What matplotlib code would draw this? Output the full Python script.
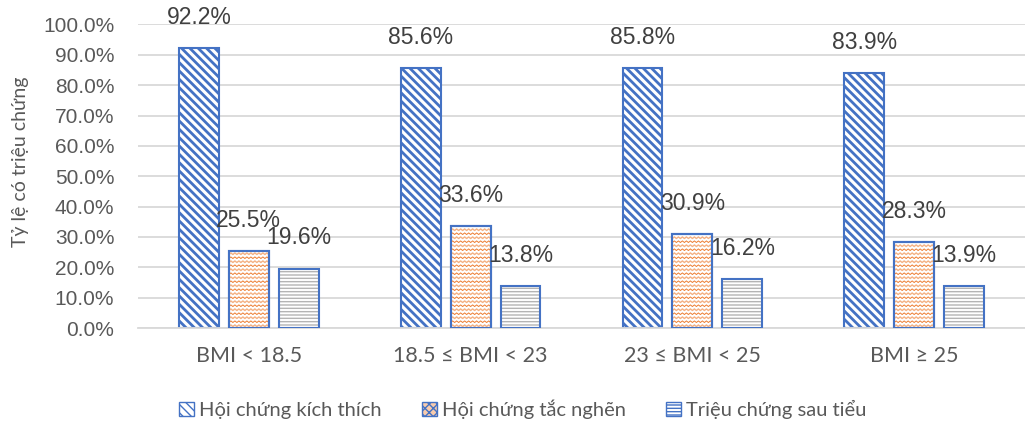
import matplotlib.pyplot as plt
import matplotlib.patches as mpatches
import numpy as np

categories = ["BMI < 18.5", "18.5 ≤ BMI < 23", "23 ≤ BMI < 25", "BMI ≥ 25"]
series_names = ["Hội chứng kích thích", "Hội chứng tắc nghẽn", "Triệu chứng sau tiểu"]
kich_thich = [92.2, 85.6, 85.8, 83.9]
tac_nghen = [25.5, 33.6, 30.9, 28.3]
sau_tieu = [19.6, 13.8, 16.2, 13.9]
y_ticks = [0, 10, 20, 30, 40, 50, 60, 70, 80, 90, 100]

BLUE = "#4472C4"
ORANGE = "#F4B183"
ORANGE_DARK = "#ED7D31"
GRAY = "#B4B4B4"
TEXT = "#404040"
TICK = "#595959"
LABEL_FONT = ["Lato", "DejaVu Sans"]

plt.rcParams["font.family"] = ["Liberation Sans", "DejaVu Sans"]

fig = plt.figure(figsize=(10.25, 4.22), dpi=100)
ax = fig.add_axes([0.1346, 0.2227, 0.8654, 0.7193])

x = np.arange(len(categories))
width = 0.18
offset = 0.225


def zigzag_fill(bar):
    # zigzag texture inside a bar, built in pixel space and clipped to the bar
    fig.canvas.draw()
    bb = bar.get_window_extent()
    inv = ax.transData.inverted()
    step = 2.0
    amp = 1.6
    row_gap = 4.0
    xs = np.arange(bb.x0, bb.x1 + step, step)
    y = bb.y0 + 1.5
    row = 0
    while y < bb.y1:
        ys = y + np.where(np.arange(len(xs)) % 2 == 0, 0, amp)
        pts = inv.transform(np.column_stack([xs, ys]))
        color = ORANGE_DARK if row % 2 else ORANGE
        lw = 0.7 if row % 2 else 1.0
        line, = ax.plot(pts[:, 0], pts[:, 1], color=color, lw=lw, zorder=2.5)
        line.set_clip_path(bar)
        y += row_gap
        row += 1


# blue bars: diagonal hatch
with plt.rc_context({"hatch.linewidth": 2.0}):
    bars1 = ax.bar(x - offset, kich_thich, width, facecolor="white", edgecolor=BLUE,
                   hatch="\\\\\\\\", linewidth=1.5, zorder=2)

# orange bars: zigzag texture
bars2 = ax.bar(x, tac_nghen, width, facecolor="white", edgecolor=BLUE,
               linewidth=1.5, zorder=2)

# gray bars: horizontal hatch, blue outline drawn on top
with plt.rc_context({"hatch.linewidth": 1.0}):
    ax.bar(x + offset, sau_tieu, width, facecolor="white", edgecolor=GRAY,
           hatch="-----", linewidth=0, zorder=2)
bars3 = ax.bar(x + offset, sau_tieu, width, facecolor="none", edgecolor=BLUE,
               linewidth=1.5, zorder=3)

ax.set_xlim(-0.5, 3.5)
ax.set_ylim(0, 100)

for b in bars2:
    zigzag_fill(b)
    ax.add_patch(mpatches.Rectangle(b.get_xy(), b.get_width(), b.get_height(),
                                    facecolor="none", edgecolor=BLUE, lw=1.5, zorder=3))

for bars, vals in [(bars1, kich_thich), (bars2, tac_nghen), (bars3, sau_tieu)]:
    for b, v in zip(bars, vals):
        ax.annotate(f"{v:.1f}%", (b.get_x() + b.get_width() / 2, v),
                    xytext=(0, 22), textcoords="offset points",
                    ha="center", va="center", fontsize=16.5, color=TEXT, zorder=5)

ax.set_yticks(y_ticks)
ax.set_yticklabels([f"{t:.1f}%" for t in y_ticks], fontsize=15, color=TICK)
ax.set_xticks(x)
ax.set_xticklabels(categories, fontsize=15.5, color=TICK, family=LABEL_FONT)
ax.tick_params(axis="both", length=0)
ax.tick_params(axis="x", pad=13)
ax.tick_params(axis="y", pad=17)

ax.grid(axis="y", color="#D9D9D9", linewidth=1.3, zorder=0)
ax.set_axisbelow(True)
for side in ["top", "right", "left"]:
    ax.spines[side].set_visible(False)
ax.spines["bottom"].set_color("#D9D9D9")
ax.spines["bottom"].set_linewidth(1.3)

ax.set_ylabel("Tỷ lệ có triệu chứng", fontsize=14, color=TICK, family=LABEL_FONT)
ax.yaxis.set_label_coords(-0.123, 0.547)

with plt.rc_context({"hatch.linewidth": 1.2}):
    handles = [
        mpatches.Patch(facecolor="white", edgecolor=BLUE, hatch="\\\\\\\\", lw=1),
        mpatches.Patch(facecolor="#F8CBAD", edgecolor=BLUE, hatch="xxxx", lw=1),
        mpatches.Patch(facecolor="white", edgecolor=BLUE, hatch="-----", lw=1),
    ]
fig.legend(handles, series_names, loc="center", bbox_to_anchor=(0.51, 0.03),
           ncol=3, frameon=False, handlelength=0.75, handleheight=0.75,
           handletextpad=0.25, columnspacing=2.0,
           prop={"family": LABEL_FONT, "size": 14.5}, labelcolor=TICK)

fig.savefig("out.png", dpi=100)
